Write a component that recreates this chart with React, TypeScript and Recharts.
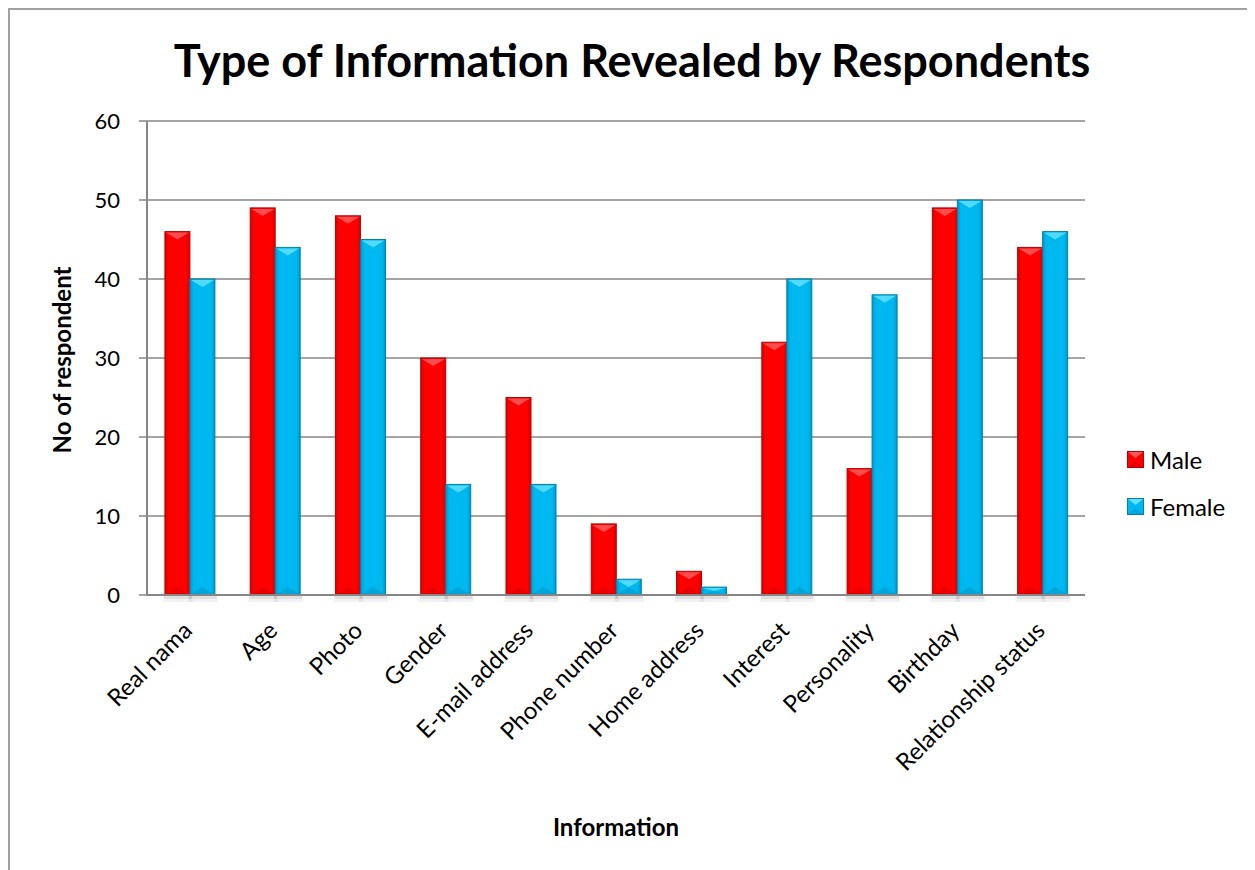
import React from "react";
import { BarChart, Bar, XAxis, YAxis, CartesianGrid } from "recharts";

const categories = [
  "Real nama",
  "Age",
  "Photo",
  "Gender",
  "E-mail address",
  "Phone number",
  "Home address",
  "Interest",
  "Personality",
  "Birthday",
  "Relationship status",
];
const maleValues = [46, 49, 48, 30, 25, 9, 3, 32, 16, 49, 44];
const femaleValues = [40, 44, 45, 14, 14, 2, 1, 40, 38, 50, 46];
const yTicks = [0, 10, 20, 30, 40, 50, 60];

const data = categories.map((name, i) => ({
  name,
  Male: maleValues[i],
  Female: femaleValues[i],
}));

const FONT = "Lato, 'Open Sans', sans-serif";
const GRID = "#868686";

const palette: Record<string, { base: string; edge: string; light: string; dark: string }> = {
  Male: { base: "#ff0000", edge: "#b80000", light: "#ff5a5a", dark: "#d80000" },
  Female: { base: "#00b8f0", edge: "#0080aa", light: "#5ee0ff", dark: "#0098cc" },
};

const BevelBar = (props: any) => {
  const { x, y, width: w, height: h, dataKey } = props;
  if (!h || h <= 0) return null;
  const c = palette[dataKey];
  const id = `g-${dataKey}`;
  const b = Math.min(w / 3, h / 2, 8);
  return (
    <g>
      <defs>
        <linearGradient id={id} x1="0" y1="0" x2="1" y2="0">
          <stop offset="0%" stopColor={c.dark} />
          <stop offset="15%" stopColor={c.base} />
          <stop offset="85%" stopColor={c.base} />
          <stop offset="100%" stopColor={c.dark} />
        </linearGradient>
      </defs>
      <rect x={x - 1} y={y + h} width={w + 3} height={4} fill="#000" opacity={0.12} />
      <rect x={x - 2} y={y + h + 4} width={w + 5} height={3} fill="#000" opacity={0.05} />
      <rect x={x} y={y} width={w} height={h} fill={`url(#${id})`} stroke={c.edge} strokeWidth={1} />
      <polygon
        points={`${x + 1},${y + 1} ${x + w - 1},${y + 1} ${x + w / 2},${y + b}`}
        fill={c.light}
        opacity={0.85}
      />
      <polygon
        points={`${x + 1},${y + h - 1} ${x + w - 1},${y + h - 1} ${x + w / 2},${y + h - b}`}
        fill={c.dark}
        opacity={0.6}
      />
    </g>
  );
};

const XTick = (props: any) => {
  const { x, y, payload } = props;
  return (
    <g transform={`translate(${x + 4},${y + 29}) rotate(-45)`}>
      <text textAnchor="end" fontSize={24} fontFamily={FONT} fill="#000">
        {payload.value}
      </text>
    </g>
  );
};

const legendRows = [
  { key: "Male", top: 437 },
  { key: "Female", top: 484 },
];

export default function App() {
  return (
    <div
      style={{
        position: "relative",
        width: 1244,
        height: 860,
        border: "2px solid #a0a0a0",
        background: "#fff",
        fontFamily: FONT,
      }}
    >
      <div
        style={{
          position: "absolute",
          left: 0,
          width: 1244,
          top: 23,
          textAlign: "center",
          fontSize: 45,
          fontWeight: 700,
          color: "#000",
        }}
      >
        Type of Information Revealed by Respondents
      </div>
      <div
        style={{
          position: "absolute",
          left: 51,
          top: 350,
          transform: "translate(-50%, -50%) rotate(-90deg)",
          fontSize: 24,
          fontWeight: 700,
          whiteSpace: "nowrap",
          color: "#000",
        }}
      >
        No of respondent
      </div>
      <div
        style={{
          position: "absolute",
          left: 0,
          width: 1212,
          top: 802,
          textAlign: "center",
          fontSize: 24,
          fontWeight: 700,
          color: "#000",
        }}
      >
        Information
      </div>
      {legendRows.map(({ key, top }) => (
        <div
          key={key}
          style={{
            position: "absolute",
            left: 1117,
            top,
            height: 24,
            display: "flex",
            alignItems: "center",
            fontSize: 24,
            color: "#000",
          }}
        >
          <svg width={17} height={17} style={{ marginRight: 6 }}>
            <rect x={0.5} y={0.5} width={16} height={16} fill={palette[key].base} stroke={palette[key].edge} />
            <polygon points="1,1 16,1 8.5,7" fill={palette[key].light} />
            <polygon points="1,16 16,16 8.5,10" fill={palette[key].dark} opacity={0.6} />
          </svg>
          <span>{key}</span>
        </div>
      ))}
      <BarChart
        width={1244}
        height={860}
        data={data}
        margin={{ top: 111, right: 169, bottom: 0, left: 37 }}
        barCategoryGap="21%"
        barGap={0}
      >
        <CartesianGrid vertical={false} stroke={GRID} strokeWidth={1.5} />
        <XAxis
          dataKey="name"
          height={275}
          interval={0}
          tickLine={false}
          axisLine={{ stroke: GRID, strokeWidth: 2 }}
          tick={<XTick />}
        />
        <YAxis
          width={100}
          domain={[0, 60]}
          ticks={yTicks}
          interval={0}
          tickSize={8}
          tickMargin={19}
          tickLine={{ stroke: GRID, strokeWidth: 1.5 }}
          axisLine={{ stroke: GRID, strokeWidth: 2 }}
          tick={{ fontSize: 22, fontFamily: FONT, fill: "#000" }}
        />
        <Bar dataKey="Male" fill="#ff0000" shape={<BevelBar />} isAnimationActive={false} />
        <Bar dataKey="Female" fill="#00b8f0" shape={<BevelBar />} isAnimationActive={false} />
      </BarChart>
    </div>
  );
}
